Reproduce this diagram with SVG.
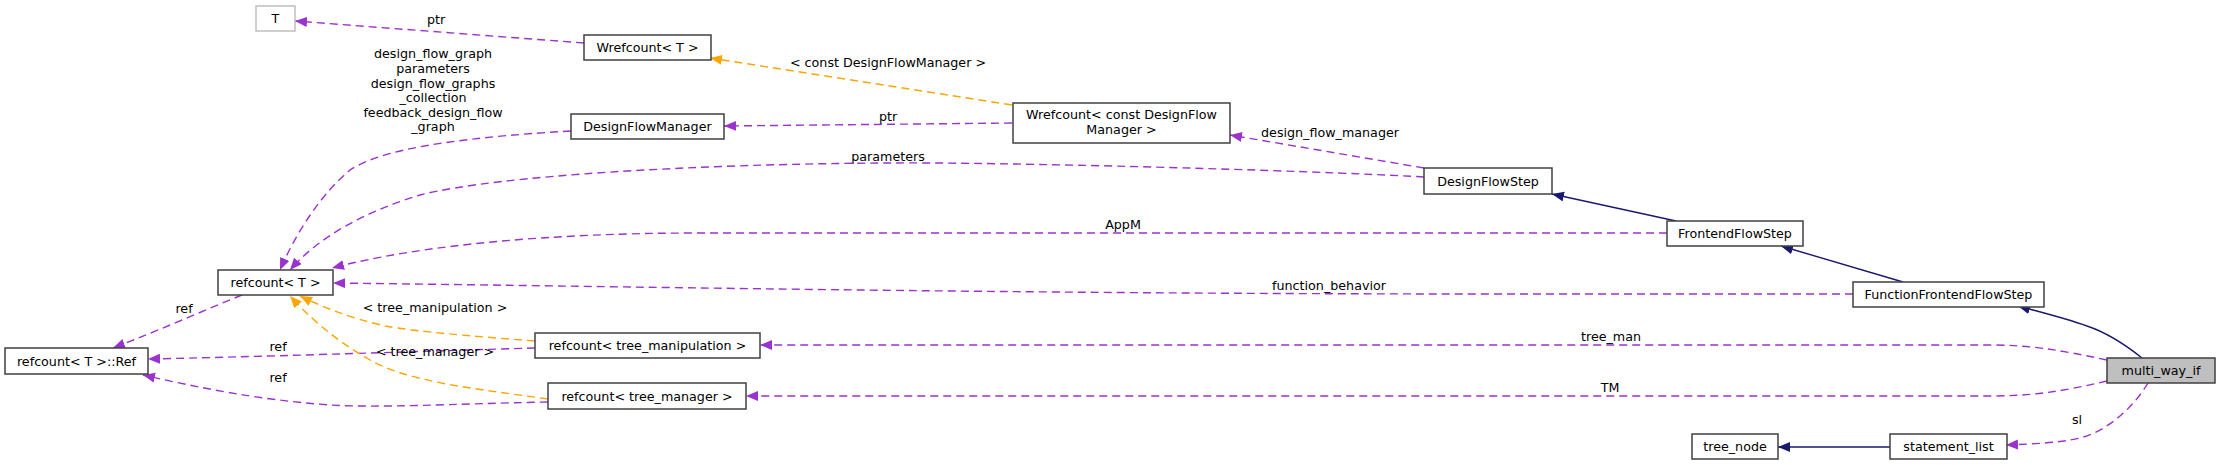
<svg xmlns="http://www.w3.org/2000/svg" width="2220" height="465" viewBox="0 0 2220 465">
<style>
text{font-family:"DejaVu Sans","Noto Sans",sans-serif;font-size:12.7px;fill:#000;}
.n rect{fill:#fff;stroke:#404040;stroke-width:1.5;}
.n text{text-anchor:middle;}
.lbl text, text.lbl{text-anchor:middle;}
.e{fill:none;stroke-width:1.4;}
.p{stroke:#9a32cd;stroke-dasharray:8,5;marker-end:url(#ap);}
.o{stroke:#ffa500;stroke-dasharray:8,5;marker-end:url(#ao);}
.b{stroke:#191970;marker-end:url(#ab);}
</style>
<defs>
<marker id="ap" markerUnits="userSpaceOnUse" markerWidth="14" markerHeight="12" refX="12" refY="5" orient="auto"><path d="M0,0L12,5L0,10z" fill="#9a32cd"/></marker>
<marker id="ao" markerUnits="userSpaceOnUse" markerWidth="14" markerHeight="12" refX="12" refY="5" orient="auto"><path d="M0,0L12,5L0,10z" fill="#ffa500"/></marker>
<marker id="ab" markerUnits="userSpaceOnUse" markerWidth="14" markerHeight="12" refX="12" refY="5" orient="auto"><path d="M0,0L12,5L0,10z" fill="#191970"/></marker>
</defs>
<rect width="2220" height="465" fill="#fff"/>
<g id="edges">
<path class="e b" d="M2142,358 C2122,342 2105,332 2087,326 C2065,318 2040,312 2018,306"/>
<path class="e b" d="M1903,282 L1781,246"/>
<path class="e b" d="M1676,221 L1552,194"/>
<path class="e b" d="M1890,447 L1778,447"/>
<path class="e p" d="M2148,383 C2135,405 2110,430 2080,438 C2060,443 2030,444 2006,445"/>
<path class="e p" d="M2107,360 C2060,350 2030,345 1990,345 L760,345"/>
<path class="e p" d="M2107,381 C2060,392 2030,396 1990,396 L746,396"/>
<path class="e p" d="M1853,294 L1500,294 C1000,294 600,286 333,283"/>
<path class="e p" d="M1667,233 L700,233 C550,233 420,245 332,268"/>
<path class="e p" d="M1424,177 C1300,170 1000,162 888,163 C700,164 500,175 420,195 C370,210 320,235 290,270"/>
<path class="e p" d="M1424,168 L1230,135"/>
<path class="e o" d="M1012,105 L710,58"/>
<path class="e p" d="M1012,123 L724,126"/>
<path class="e p" d="M584,43 L295,21"/>
<path class="e p" d="M571,131 C450,138 380,150 350,170 C320,195 295,235 280,270"/>
<path class="e p" d="M242,295 C200,312 160,330 113,348"/>
<path class="e p" d="M535,348 C400,352 250,357 148,359"/>
<path class="e p" d="M548,402 C450,404 380,408 330,405 C260,400 200,388 143,375"/>
<path class="e o" d="M535,341 C470,336 420,332 385,326 C350,318 320,306 300,296"/>
<path class="e o" d="M548,399 C470,388 410,382 370,360 C335,340 310,318 290,296"/>
<g class="lbl">
<text x="2077" y="424">sl</text>
<text x="1611" y="341">tree_man</text>
<text x="1610" y="392">TM</text>
<text x="1329" y="290">function_behavior</text>
<text x="1123" y="229">AppM</text>
<text x="888" y="161">parameters</text>
<text x="1330" y="137">design_flow_manager</text>
<text x="888" y="67">&lt; const DesignFlowManager &gt;</text>
<text x="888" y="121">ptr</text>
<text x="436" y="24">ptr</text>
<text x="433" y="58">design_flow_graph</text>
<text x="433" y="73">parameters</text>
<text x="433" y="88">design_flow_graphs</text>
<text x="433" y="102">_collection</text>
<text x="433" y="117">feedback_design_flow</text>
<text x="433" y="131">_graph</text>
<text x="184" y="313">ref</text>
<text x="278" y="351">ref</text>
<text x="278" y="382">ref</text>
<text x="435" y="312">&lt; tree_manipulation &gt;</text>
<text x="435" y="356">&lt; tree_manager &gt;</text>
</g>
</g>
<g id="T" class="n"><rect x="256" y="6" width="39" height="25" style="stroke:#bfbfbf"/><text x="275.5" y="23">T</text></g>
<g id="WrefcountT" class="n"><rect x="584" y="35" width="127" height="25"/><text x="647.5" y="52">Wrefcount&lt; T &gt;</text></g>
<g id="DesignFlowManager" class="n"><rect x="571" y="114" width="153" height="25"/><text x="647.5" y="131">DesignFlowManager</text></g>
<g id="WrefcountConst" class="n"><rect x="1013" y="103" width="217" height="40"/><text x="1121.5" y="119">Wrefcount&lt; const DesignFlow</text><text x="1121.5" y="134">Manager &gt;</text></g>
<g id="DesignFlowStep" class="n"><rect x="1424" y="168" width="128" height="26"/><text x="1488" y="186">DesignFlowStep</text></g>
<g id="FrontendFlowStep" class="n"><rect x="1667" y="221" width="136" height="25"/><text x="1735" y="238">FrontendFlowStep</text></g>
<g id="FunctionFrontendFlowStep" class="n"><rect x="1853" y="282" width="191" height="25"/><text x="1948.5" y="299">FunctionFrontendFlowStep</text></g>
<g id="multi_way_if" class="n"><rect x="2107" y="358" width="108" height="25" style="fill:#bfbfbf"/><text x="2161" y="375">multi_way_if</text></g>
<g id="refcountT" class="n"><rect x="218" y="270" width="115" height="25"/><text x="275.5" y="287">refcount&lt; T &gt;</text></g>
<g id="refcountRef" class="n"><rect x="5" y="348" width="143" height="26"/><text x="76.5" y="366">refcount&lt; T &gt;::Ref</text></g>
<g id="refcountTreeManipulation" class="n"><rect x="535" y="333" width="225" height="25"/><text x="647.5" y="350">refcount&lt; tree_manipulation &gt;</text></g>
<g id="refcountTreeManager" class="n"><rect x="548" y="383" width="198" height="26"/><text x="647" y="401">refcount&lt; tree_manager &gt;</text></g>
<g id="tree_node" class="n"><rect x="1692" y="434" width="86" height="25"/><text x="1735" y="451">tree_node</text></g>
<g id="statement_list" class="n"><rect x="1890" y="434" width="117" height="25"/><text x="1948.5" y="451">statement_list</text></g>
</svg>
